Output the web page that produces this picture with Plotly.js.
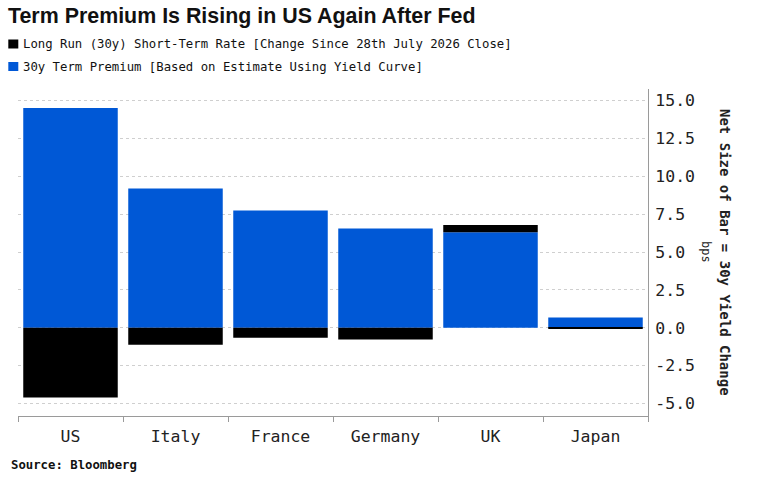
<!DOCTYPE html>
<html>
<head>
<meta charset="utf-8">
<script src="https://cdn.plot.ly/plotly-3.0.1.min.js"></script>
<style>html,body{margin:0;padding:0;background:#fff;}#chart{width:763px;height:477px;}</style>
</head>
<body>
<div id="chart"></div>
<script>
const countries = ['US', 'Italy', 'France', 'Germany', 'UK', 'Japan'];
const shortRate = [-4.61, -1.12, -0.66, -0.77, 0.49, -0.08];
const termPremium = [14.52, 9.20, 7.75, 6.55, 6.30, 0.68];
const yTickVals = [-5, -2.5, 0, 2.5, 5, 7.5, 10, 12.5, 15];
const yTickLabels = ['-5.0', '-2.5', '0.0', '2.5', '5.0', '7.5', '10.0', '12.5', '15.0'];
const shortRateName = 'Long Run (30y) Short-Term Rate [Change Since 28th July 2026 Close]';
const termPremiumName = '30y Term Premium [Based on Estimate Using Yield Curve]';
const shortRateColor = '#000000';
const termPremiumColor = '#0058d6';

const mono = 'DejaVu Sans Mono, monospace';

// plot area geometry (pixels) used to place the hand-built legend
const W = 763, H = 477;
const M = {l: 18, r: 115, t: 89, b: 61};
const pw = W - M.l - M.r, ph = H - M.t - M.b;
const px = v => (v - M.l) / pw;
const py = v => (H - M.b - v) / ph;

const traces = [
  {
    type: 'bar', name: termPremiumName,
    x: countries, y: termPremium, marker: {color: termPremiumColor},
    hoverinfo: 'x+y'
  },
  {
    type: 'bar', name: shortRateName,
    x: countries, y: shortRate, marker: {color: shortRateColor},
    hoverinfo: 'x+y'
  }
];

const legendRows = [
  {name: shortRateName, color: shortRateColor, cy: 44},
  {name: termPremiumName, color: termPremiumColor, cy: 66.5}
];

const shapes = legendRows.map(r => ({
  type: 'rect', xref: 'paper', yref: 'paper',
  x0: px(8.3), x1: px(18.3), y0: py(r.cy - 4.5), y1: py(r.cy + 4.5),
  fillcolor: r.color, line: {width: 0}
}));

const legendAnn = legendRows.map(r => ({
  text: r.name, xref: 'paper', yref: 'paper',
  x: px(20.5), y: py(r.cy), xanchor: 'left', yanchor: 'middle',
  showarrow: false, font: {family: mono, size: 12.3, color: '#111'}
}));

const layout = {
  width: W, height: H,
  margin: M,
  paper_bgcolor: '#ffffff', plot_bgcolor: '#ffffff',
  barmode: 'relative', bargap: 0.1,
  showlegend: false,
  title: {
    text: '<b>Term Premium Is Rising in US Again After Fed</b>',
    font: {family: 'Liberation Sans, Arial, sans-serif', size: 21.4, color: '#111'},
    x: 8 / W, xref: 'container', xanchor: 'left',
    y: 1 - 16 / H, yref: 'container', yanchor: 'middle'
  },
  xaxis: {
    type: 'category', tickson: 'boundaries', ticks: 'outside', ticklen: 5,
    tickcolor: '#9a9a9a', showline: true, linecolor: '#9a9a9a', linewidth: 1,
    showgrid: false, zeroline: false, ticklabelstandoff: 5,
    tickfont: {family: mono, size: 16.5, color: '#222'}
  },
  yaxis: {
    side: 'right', range: [-5.83, 15.77], tickvals: yTickVals, ticktext: yTickLabels,
    showline: true, linecolor: '#9a9a9a', linewidth: 1, ticks: '',
    showgrid: true, gridcolor: '#cfcfcf', griddash: 'dot', gridwidth: 1,
    zeroline: false, ticklabelstandoff: 3,
    tickfont: {family: mono, size: 16.5, color: '#222'}
  },
  shapes: shapes,
  annotations: legendAnn.concat([
    {
      text: '<b>Net Size of Bar = 30y Yield Change</b>', textangle: 90,
      xref: 'paper', yref: 'paper', x: px(725), y: py(252),
      xanchor: 'center', yanchor: 'middle', showarrow: false,
      font: {family: mono, size: 14, color: '#222'}
    },
    {
      text: 'bps', textangle: 90,
      xref: 'paper', yref: 'paper', x: px(706), y: py(252),
      xanchor: 'center', yanchor: 'middle', showarrow: false,
      font: {family: mono, size: 12, color: '#222'}
    },
    {
      text: '<b>Source: Bloomberg</b>',
      xref: 'paper', yref: 'paper', x: px(9), y: py(465),
      xanchor: 'left', yanchor: 'middle', showarrow: false,
      font: {family: mono, size: 12.3, color: '#111'}
    }
  ])
};

Plotly.newPlot('chart', traces, layout, {displayModeBar: false});
</script>
</body>
</html>
